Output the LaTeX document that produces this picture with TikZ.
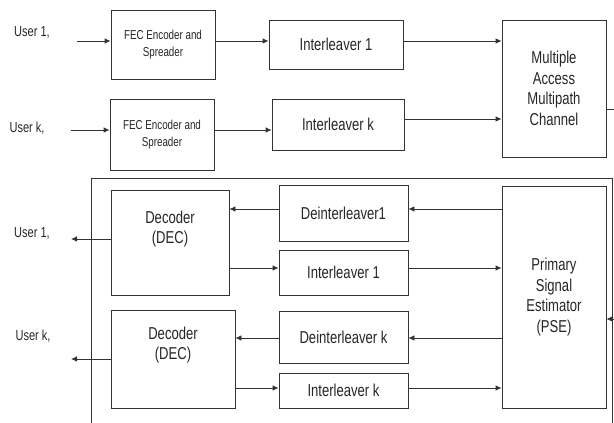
\documentclass[tikz,border=0pt]{standalone}
\usepackage{fontspec}
\setmainfont{Liberation Sans}[FakeStretch=0.76]
\usetikzlibrary{arrows.meta}

\begin{document}
\begin{tikzpicture}[x=1pt,y=-1pt,
    blk/.style={draw=black!80,line width=0.8pt,inner sep=0pt},
    txt/.style={align=center,text=black!85,font=\fontsize{17.2}{20.5}\selectfont},
    sml/.style={align=center,text=black!85,font=\fontsize{12.9}{17}\selectfont},
    usr/.style={text=black!85,font=\fontsize{14.5}{16}\selectfont},
    arr/.style={draw=black!80,line width=0.8pt,-{Latex[length=6pt,width=5.5pt]}},
    ln/.style={draw=black!80,line width=0.8pt}]
  \useasboundingbox (0,0) rectangle (614,423);

  % transmitter
  \node[usr] (u1) at (32,32) {User 1,};
  \node[usr] (uk) at (27,128) {User k,};
  \coordinate (in1) at (77,41);
  \coordinate (ink) at (71,130);
  \node[blk,sml,minimum width=104,minimum height=69] (fec1) at (163,44.5) {FEC Encoder and\\Spreader};
  \node[blk,sml,minimum width=104,minimum height=71] (feck) at (162,134.5) {FEC Encoder and\\Spreader};
  \node[blk,txt,minimum width=134,minimum height=49] (il1) at (336,44.5) {Interleaver 1};
  \node[blk,txt,minimum width=132,minimum height=51] (ilk) at (338,124.5) {Interleaver k};
  \node[blk,txt,minimum width=104,minimum height=137] (chan) at (554,88.5) {Multiple\\Access\\Multipath\\Channel};
  \draw[arr] (in1) -- (fec1.west |- in1);
  \draw[arr] (fec1.east |- in1) -- (il1.west |- in1);
  \draw[arr] (il1.east |- in1) -- (chan.west |- in1);
  \draw[arr] (ink) -- (feck.west |- ink);
  \draw[arr] (feck.east |- ink) -- (ilk.west |- ink);
  \draw[arr] ([yshift=5.5pt]ilk.east) -- ([yshift=5.5pt]ilk.east -| chan.west);
  \coordinate (out) at (614,109);
  \draw[ln] (chan.east |- out) -- (out);

  % receiver
  \draw[ln] (91,423) |- (612,178) -- (612,423);
  \node[blk,minimum width=118,minimum height=105] (dec1) at (170,242.5) {};
  \node[blk,minimum width=124,minimum height=98] (deck) at (173,359) {};
  \node[txt] (dec1t) at ([yshift=13.5pt]dec1) {Decoder\\(DEC)};
  \node[txt] (deckt) at ([yshift=14pt]deck) {Decoder\\(DEC)};
  \node[blk,txt,minimum width=129,minimum height=56] (deil1) at (343.5,213) {Deinterleaver1};
  \node[blk,txt,minimum width=129,minimum height=45] (il1b) at (343.5,272.5) {Interleaver 1};
  \node[blk,txt,minimum width=129,minimum height=52] (deilk) at (343.5,337) {Deinterleaver k};
  \node[blk,txt,minimum width=129,minimum height=35] (ilkb) at (343.5,390.5) {Interleaver k};
  \node[blk,txt,minimum width=104,minimum height=222] (pse) at (554,297) {Primary\\Signal\\Estimator\\(PSE)};
  \foreach \b/\d/\s in {deil1/dec1/4, deilk/deck/-1} {
    \draw[arr] ([yshift=\s pt]\b.east -| pse.west) -- ([yshift=\s pt]\b.east);
    \draw[arr] ([yshift=\s pt]\b.west) -- ([yshift=\s pt]\b.west -| \d.east);
  }
  \foreach \b/\d/\s in {il1b/dec1/4.5, ilkb/deck/2.5} {
    \draw[arr] ([yshift=\s pt]\b.west -| \d.east) -- ([yshift=\s pt]\b.west);
    \draw[arr] ([yshift=\s pt]\b.east) -- ([yshift=\s pt]\b.east -| pse.west);
  }
  \coordinate (fb) at (614,319);
  \draw[arr] (fb) -- (pse.east |- fb);

  % outputs
  \node[usr] (v1) at (32,233) {User 1,};
  \node[usr] (vk) at (33,336) {User k,};
  \coordinate (o1) at (71,239);
  \coordinate (ok) at (71,359);
  \draw[arr] ([yshift=3.5pt]dec1.west) -- (o1);
  \draw[arr] (deck.west) -- (ok);
\end{tikzpicture}
\end{document}
